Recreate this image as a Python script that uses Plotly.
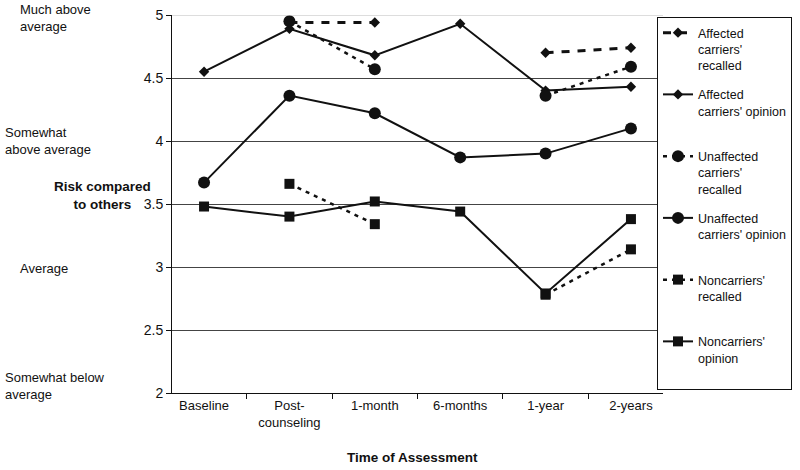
import plotly.graph_objects as go

categories = ["Baseline", "Post-<br>counseling", "1-month", "6-months", "1-year", "2-years"]
y_ticks = [2, 2.5, 3, 3.5, 4, 4.5, 5]
y_tick_text = ["2", "2.5", "3", "3.5", "4", "4.5", "5"]

affected_recalled = [None, 4.94, 4.94, None, 4.70, 4.74]
affected_opinion = [4.55, 4.89, 4.68, 4.93, 4.40, 4.43]
unaffected_recalled = [None, 4.95, 4.57, None, 4.36, 4.59]
unaffected_opinion = [3.67, 4.36, 4.22, 3.87, 3.90, 4.10]
noncarrier_recalled = [None, 3.66, 3.34, None, 2.78, 3.14]
noncarrier_opinion = [3.48, 3.40, 3.52, 3.44, 2.79, 3.38]

level_labels = ["Much above<br>average", "Somewhat<br>above average", "Average", "Somewhat below<br>average"]

FONT = "Liberation Sans, Arial, sans-serif"
INK = "#111111"

series = [
    ("Affected<br>carriers'<br>recalled", affected_recalled, "diamond", 8, "8px,8px", 3),
    ("Affected<br>carriers' opinion<br>&nbsp;", affected_opinion, "diamond", 8, "solid", 2),
    ("Unaffected<br>carriers'<br>recalled", unaffected_recalled, "circle", 12, "4px,5px", 2.5),
    ("Unaffected<br>carriers' opinion<br>&nbsp;", unaffected_opinion, "circle", 12, "solid", 2),
    ("Noncarriers'<br>recalled<br>&nbsp;", noncarrier_recalled, "square", 10, "4px,5px", 2.5),
    ("Noncarriers'<br>opinion<br>&nbsp;", noncarrier_opinion, "square", 10, "solid", 2),
]

fig = go.Figure()
for i, (name, vals, sym, size, dash, lw) in enumerate(series):
    fig.add_trace(go.Scatter(
        x=categories, y=vals, name=name, mode="lines+markers",
        connectgaps=False, cliponaxis=False, legendgroup=f"g{i}",
        line=dict(color=INK, width=lw, dash=dash),
        marker=dict(symbol=sym, size=size, color=INK),
    ))

L, R, T, B = 172, 663, 15, 393
W, H = 800, 470

def px(x):
    return (x - L) / (R - L)

def py(y):
    return (B - y) / (B - T)

fig.update_layout(
    width=W, height=H,
    margin=dict(l=L, r=W - R, t=T, b=H - B, autoexpand=False),
    paper_bgcolor="white", plot_bgcolor="white",
    font=dict(family=FONT, size=13, color=INK),
    showlegend=True,
    legend=dict(
        x=px(657), y=py(17), xanchor="left", yanchor="top",
        bordercolor=INK, borderwidth=1, bgcolor="white",
        font=dict(family=FONT, size=12.5, color=INK),
        valign="top", tracegroupgap=10, traceorder="grouped",
    ),
    xaxis=dict(
        type="category", showgrid=False, showline=True, linecolor=INK, linewidth=1,
        ticks="outside", tickson="boundaries", ticklen=5, tickcolor=INK,
        tickfont=dict(family=FONT, size=13, color=INK), automargin=False,
    ),
    yaxis=dict(
        range=[2, 5], tickvals=y_ticks, ticktext=y_tick_text,
        showgrid=True, gridcolor="#444444", gridwidth=1,
        showline=True, linecolor=INK, linewidth=1,
        ticks="outside", ticklen=5, tickcolor=INK,
        tickfont=dict(family=FONT, size=14, color=INK),
        zeroline=False, automargin=False,
    ),
)

fig.add_shape(type="line", xref="paper", yref="y", x0=0, x1=1, y0=5, y1=5,
              line=dict(color="#bbbbbb", width=1), layer="above")

# Left-side level labels
fig.add_annotation(text=level_labels[0], xref="paper", yref="paper", x=px(18), y=py(18),
                   xanchor="left", yanchor="middle", align="left", showarrow=False)
fig.add_annotation(text=level_labels[1], xref="paper", yref="paper", x=px(3), y=py(140.5),
                   xanchor="left", yanchor="middle", align="left", showarrow=False)
fig.add_annotation(text=level_labels[2], xref="paper", yref="paper", x=px(18), y=py(268),
                   xanchor="left", yanchor="middle", align="left", showarrow=False)
fig.add_annotation(text=level_labels[3], xref="paper", yref="paper", x=px(3), y=py(386),
                   xanchor="left", yanchor="middle", align="left", showarrow=False)

# Axis titles
fig.add_annotation(text="<b>Risk compared<br>to others</b>", xref="paper", yref="paper",
                   x=px(102), y=py(195), xanchor="center", yanchor="middle", align="center",
                   showarrow=False, font=dict(size=13.5))
fig.add_annotation(text="<b>Time of Assessment</b>", xref="paper", yref="paper",
                   x=px(412), y=py(458), xanchor="center", yanchor="middle",
                   showarrow=False, font=dict(size=13.5))

fig.write_html("out.html", config={"displayModeBar": False},
               post_script="document.body.style.margin='0px';")
